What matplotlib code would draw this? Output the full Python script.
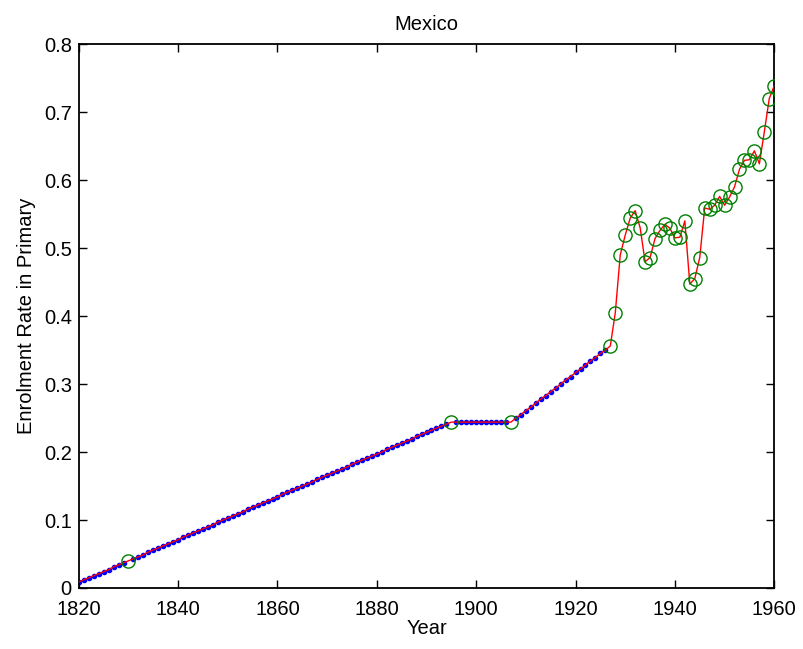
import matplotlib
matplotlib.use("Agg")
import matplotlib.pyplot as plt
import numpy as np

# Observed values (green circles)
obs_years = [1830, 1895, 1907, 1927, 1928, 1929, 1930, 1931, 1932, 1933, 1934,
             1935, 1936, 1937, 1938, 1939, 1940, 1941, 1942, 1943, 1944, 1945,
             1946, 1947, 1948, 1949, 1950, 1951, 1952, 1953, 1954, 1955, 1956,
             1957, 1958, 1959, 1960]
obs_values = [0.040, 0.244, 0.244, 0.356, 0.405, 0.490, 0.519, 0.544, 0.555,
              0.530, 0.480, 0.486, 0.514, 0.526, 0.535, 0.529, 0.515, 0.516,
              0.540, 0.447, 0.455, 0.486, 0.559, 0.557, 0.563, 0.576, 0.563,
              0.575, 0.590, 0.616, 0.629, 0.630, 0.643, 0.624, 0.671, 0.720,
              0.739]

# Estimated values (blue dots)
est_years_a = [1820, 1821, 1822, 1823, 1824, 1825, 1826, 1827, 1828, 1829]
est_values_a = [0.009, 0.012, 0.015, 0.018, 0.021, 0.024, 0.027, 0.031, 0.034, 0.037]

est_years_b = list(range(1831, 1895))
est_values_b = [0.043, 0.046, 0.049, 0.053, 0.056, 0.059, 0.062, 0.065, 0.068,
                0.071, 0.075, 0.078, 0.081, 0.084, 0.087, 0.090, 0.093, 0.097,
                0.100, 0.103, 0.106, 0.109, 0.112, 0.116, 0.119, 0.122, 0.125,
                0.128, 0.131, 0.134, 0.138, 0.141, 0.144, 0.147, 0.150, 0.153,
                0.156, 0.160, 0.163, 0.166, 0.169, 0.172, 0.175, 0.178, 0.182,
                0.185, 0.188, 0.191, 0.194, 0.197, 0.200, 0.204, 0.207, 0.210,
                0.213, 0.216, 0.219, 0.223, 0.226, 0.229, 0.232, 0.235, 0.238,
                0.241]

est_years_c = list(range(1896, 1907))
est_values_c = [0.244, 0.244, 0.244, 0.244, 0.244, 0.244, 0.244, 0.244, 0.244,
                0.244, 0.244]

est_years_d = list(range(1908, 1927))
est_values_d = [0.250, 0.255, 0.261, 0.266, 0.272, 0.278, 0.283, 0.289, 0.294,
                0.300, 0.306, 0.311, 0.317, 0.322, 0.328, 0.334, 0.339, 0.345,
                0.350]

x_ticks = [1820, 1840, 1860, 1880, 1900, 1920, 1940, 1960]
y_ticks = [0, 0.1, 0.2, 0.3, 0.4, 0.5, 0.6, 0.7, 0.8]
y_tick_labels = ["0", "0.1", "0.2", "0.3", "0.4", "0.5", "0.6", "0.7", "0.8"]

est_years = est_years_a + est_years_b + est_years_c + est_years_d
est_values = est_values_a + est_values_b + est_values_c + est_values_d

all_years = np.array(est_years + obs_years)
all_values = np.array(est_values + obs_values)
order = np.argsort(all_years)

FS = 14.5
plt.rcParams['font.family'] = ['Liberation Sans', 'DejaVu Sans']
fig = plt.figure(figsize=(8.04, 6.49), dpi=100)
ax = fig.add_axes([0.098, 0.094, 0.865, 0.838])

ax.plot(est_years, est_values, linestyle='none', marker='.', color='blue',
        markersize=6, zorder=2)
ax.plot(all_years[order], all_values[order], color='red', linewidth=1, zorder=3)
ax.plot(obs_years, obs_values, linestyle='none', marker='o', markersize=9.5,
        markerfacecolor='none', markeredgecolor='green', markeredgewidth=1,
        zorder=4)

ax.set_xlim(1820, 1960)
ax.set_ylim(0, 0.8)
ax.set_xticks(x_ticks)
ax.set_yticks(y_ticks)
ax.set_yticklabels(y_tick_labels)
ax.tick_params(direction='in', top=True, right=True, length=6, width=1.0,
               labelsize=FS)
ax.tick_params(axis='x', pad=8.5)
ax.tick_params(axis='y', pad=5)
for s in ax.spines.values():
    s.set_linewidth(1.3)

ax.set_title("Mexico", fontsize=FS, pad=10)
ax.set_xlabel("Year", fontsize=FS, labelpad=0)
ax.set_ylabel("Enrolment Rate in Primary", fontsize=FS, labelpad=6)

fig.savefig("out.png", dpi=100)
